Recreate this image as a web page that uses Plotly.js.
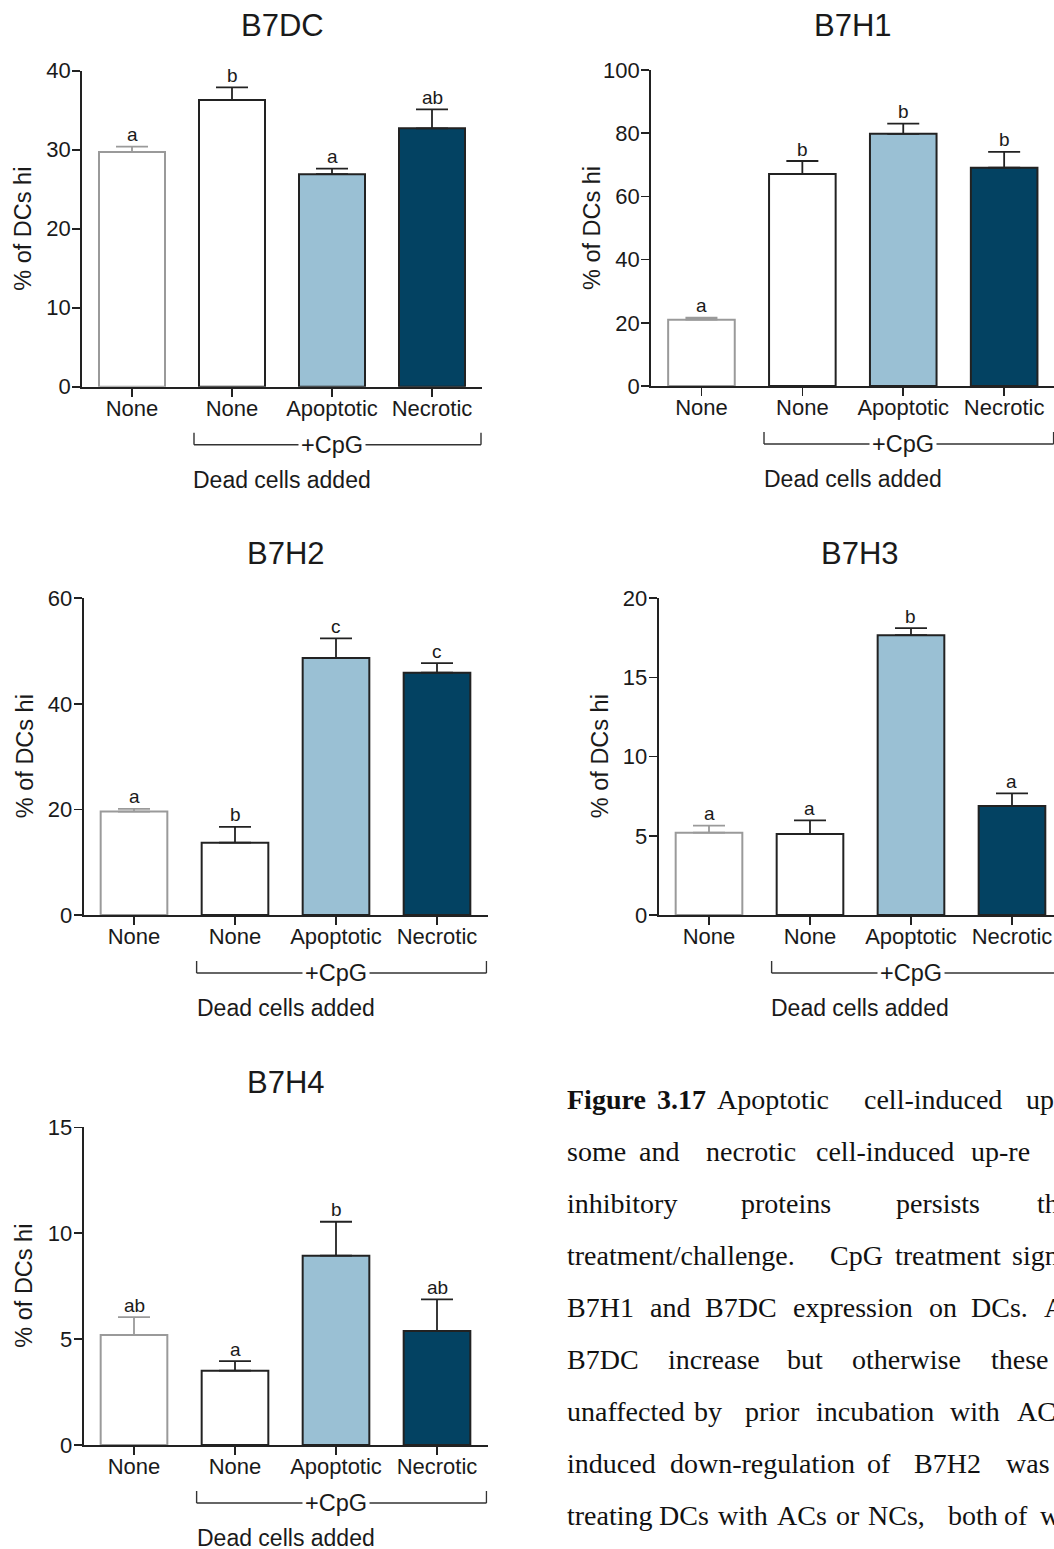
<!DOCTYPE html>
<html>
<head>
<meta charset="utf-8">
<script src="https://cdn.plot.ly/plotly-3.0.1.min.js"></script>
<style>
  html, body { margin: 0; padding: 0; background: #ffffff; }
  #chart { width: 1054px; height: 1549px; }
</style>
</head>
<body>
<div id="chart"></div>
<script>
const W = 1054, H = 1549;

// Shared category labels
const tickLabels = ['None', 'None', 'Apoptotic', 'Necrotic'];
const groupLabel = '+CpG';
const xTitle = 'Dead cells added';
const yTitle = '% of DCs hi';

// Marker names, one per panel
const panelNames = ['B7DC', 'B7H1', 'B7H2', 'B7H3', 'B7H4'];

// Means, SEM and significance letters per marker
const b7dcMean = [29.7, 36.3, 26.9, 32.7];
const b7dcSem  = [0.7, 1.6, 0.7, 2.4];
const b7dcSig  = ['a', 'b', 'a', 'ab'];

const b7h1Mean = [21.0, 67.1, 79.8, 69.1];
const b7h1Sem  = [0.6, 4.1, 3.2, 5.0];
const b7h1Sig  = ['a', 'b', 'b', 'b'];

const b7h2Mean = [19.6, 13.7, 48.7, 45.9];
const b7h2Sem  = [0.5, 3.0, 3.7, 1.8];
const b7h2Sig  = ['a', 'b', 'c', 'c'];

const b7h3Mean = [5.2, 5.12, 17.67, 6.88];
const b7h3Sem  = [0.45, 0.85, 0.45, 0.8];
const b7h3Sig  = ['a', 'a', 'b', 'a'];

const b7h4Mean = [5.19, 3.51, 8.94, 5.38];
const b7h4Sem  = [0.85, 0.45, 1.6, 1.5];
const b7h4Sig  = ['ab', 'a', 'b', 'ab'];

// Y axis extent and tick step per panel
const yMax  = [40, 100, 60, 20, 15];
const yStep = [10, 20, 20, 5, 5];

// Bar styling
const barFill = ['#ffffff', '#ffffff', '#9ac0d4', '#034262'];
const barEdge = ['#9a9a9a', '#222222', '#222222', '#222222'];

// Plot-area boxes in pixels: [left, right, top, bottom] and right end of the x range
const boxes = [
  { l: 82,    r: 482,   t: 70.7,   b: 386.7, xEnd: 3.5 },
  { l: 651,   r: 1054,  t: 70,     b: 386,   xEnd: 3.494 },
  { l: 83.5,  r: 487.5, t: 598.3,  b: 915,   xEnd: 3.5 },
  { l: 658.5, r: 1054,  t: 598.3,  b: 915,   xEnd: 3.416 },
  { l: 83.5,  r: 487.5, t: 1127.3, b: 1445,  xEnd: 3.5 }
];

const means = [b7dcMean, b7h1Mean, b7h2Mean, b7h3Mean, b7h4Mean];
const sems  = [b7dcSem, b7h1Sem, b7h2Sem, b7h3Sem, b7h4Sem];
const sigs  = [b7dcSig, b7h1Sig, b7h2Sig, b7h3Sig, b7h4Sig];

// Caption beside the last panel, one entry per justified line: [word, left px]
const captionLines = [
  [['<b>Figure</b>', 565], ['<b>3.17</b>', 655], ['Apoptotic', 715], ['cell-induced', 862], ['up', 1024]],
  [['some', 565], ['and', 637], ['necrotic', 704], ['cell-induced', 814], ['up-re', 969]],
  [['inhibitory', 565], ['proteins', 739], ['persists', 894], ['th', 1035]],
  [['treatment/challenge.', 565], ['CpG', 828], ['treatment', 893], ['sign', 1010]],
  [['B7H1', 565], ['and', 648], ['B7DC', 703], ['expression', 791], ['on', 927], ['DCs.', 969], ['A', 1042]],
  [['B7DC', 565], ['increase', 666], ['but', 785], ['otherwise', 850], ['these', 989]],
  [['unaffected', 565], ['by', 692], ['prior', 743], ['incubation', 814], ['with', 948], ['AC', 1015]],
  [['induced', 565], ['down-regulation', 668], ['of', 865], ['B7H2', 912], ['was', 1004]],
  [['treating', 565], ['DCs', 657], ['with', 716], ['ACs', 775], ['or', 834], ['NCs,', 866], ['both', 946], ['of', 1002], ['w', 1038]]
];
const captionTop = 1099, captionStep = 52.1;

const px2x = px => px / W;
const px2y = py => 1 - py / H;

const SANS = 'Liberation Sans, Arial, sans-serif';
const INK = '#1a1a1a';
const AXIS = '#222222';

const traces = [];
const annotations = [];
const shapes = [];
const layout = {
  width: W, height: H,
  margin: { l: 0, r: 0, t: 0, b: 0 },
  paper_bgcolor: '#ffffff',
  plot_bgcolor: 'rgba(0,0,0,0)',
  showlegend: false,
  barmode: 'overlay',
  font: { family: SANS, color: INK, size: 22 },
  annotations: annotations,
  shapes: shapes
};

panelNames.forEach((name, p) => {
  const n = p + 1;
  const xa = 'x' + (n === 1 ? '' : n);
  const ya = 'y' + (n === 1 ? '' : n);
  const box = boxes[p];

  layout['xaxis' + (n === 1 ? '' : n)] = {
    domain: [px2x(box.l), px2x(box.r)],
    anchor: ya,
    range: [-0.5, box.xEnd],
    tickmode: 'array',
    tickvals: [0, 1, 2, 3],
    ticktext: tickLabels,
    ticks: 'outside', ticklen: 8, tickwidth: 1.6, tickcolor: AXIS,
    ticklabelstandoff: -7,
    showline: true, linecolor: AXIS, linewidth: 1.8,
    showgrid: false, zeroline: false,
    tickfont: { family: SANS, size: 22, color: INK },
    fixedrange: true
  };
  layout['yaxis' + (n === 1 ? '' : n)] = {
    domain: [px2y(box.b), px2y(box.t)],
    anchor: xa,
    range: [0, yMax[p]],
    tick0: 0, dtick: yStep[p],
    ticks: 'outside', ticklen: 8, tickwidth: 1.6, tickcolor: AXIS,
    ticklabelstandoff: -3,
    showline: true, linecolor: AXIS, linewidth: 1.8,
    showgrid: false, zeroline: false,
    tickfont: { family: SANS, size: 22, color: INK },
    fixedrange: true
  };

  // Bars with upward SEM whiskers
  means[p].forEach((v, i) => {
    traces.push({
      type: 'bar',
      x: [i], y: [v],
      width: 0.66,
      xaxis: xa, yaxis: ya,
      marker: { color: barFill[i], line: { color: barEdge[i], width: 2 } },
      error_y: {
        type: 'data', symmetric: false,
        array: [sems[p][i]], arrayminus: [0],
        color: barEdge[i], thickness: 1.8, width: 16
      },
      hoverinfo: 'skip'
    });
    annotations.push({
      xref: xa, yref: ya,
      x: i, y: v + sems[p][i],
      yshift: 12, yanchor: 'middle', xanchor: 'center',
      text: sigs[p][i], showarrow: false,
      font: { family: SANS, size: 19, color: INK }
    });
  });

  // Panel title
  annotations.push({
    xref: xa, yref: ya + ' domain',
    x: 1.5, y: 1, yshift: 45, yanchor: 'middle',
    text: name, showarrow: false,
    font: { family: SANS, size: 31, color: INK }
  });
  // Y axis title
  annotations.push({
    xref: xa + ' domain', yref: ya + ' domain',
    x: 0, y: 0.5, xshift: -59, xanchor: 'center', yanchor: 'middle',
    textangle: -90, text: yTitle, showarrow: false,
    font: { family: SANS, size: 23.5, color: INK }
  });
  // CpG bracket label
  annotations.push({
    xref: xa, yref: ya + ' domain',
    x: 2, y: 0, yshift: -58, yanchor: 'middle',
    text: groupLabel, showarrow: false, bgcolor: '#ffffff', borderpad: 2,
    font: { family: SANS, size: 23.5, color: INK }
  });
  // X axis title
  annotations.push({
    xref: xa, yref: ya + ' domain',
    x: 1.5, y: 0, yshift: -93, yanchor: 'middle',
    text: xTitle, showarrow: false,
    font: { family: SANS, size: 23, color: INK }
  });

  // Bracket spanning the CpG-treated groups
  const yLine = px2y(box.b + 58);
  const yTip = px2y(box.b + 46);
  const bracket = { color: '#333333', width: 1.4 };
  shapes.push({ type: 'line', xref: xa, yref: 'paper', x0: 0.62, x1: 3.49, y0: yLine, y1: yLine, line: bracket });
  shapes.push({ type: 'line', xref: xa, yref: 'paper', x0: 0.62, x1: 0.62, y0: yLine, y1: yTip, line: bracket });
  shapes.push({ type: 'line', xref: xa, yref: 'paper', x0: 3.49, x1: 3.49, y0: yLine, y1: yTip, line: bracket });
});

// Figure caption
captionLines.forEach((line, k) => {
  const yc = captionTop + k * captionStep;
  line.forEach(([word, left]) => {
    annotations.push({
      xref: 'paper', yref: 'paper',
      x: px2x(left), y: px2y(yc),
      xanchor: 'left', yanchor: 'middle',
      text: word, showarrow: false,
      font: { family: 'Liberation Serif, Times New Roman, serif', size: 28, color: '#111111' }
    });
  });
});

Plotly.newPlot('chart', traces, layout, { staticPlot: true, displayModeBar: false });
</script>
</body>
</html>
